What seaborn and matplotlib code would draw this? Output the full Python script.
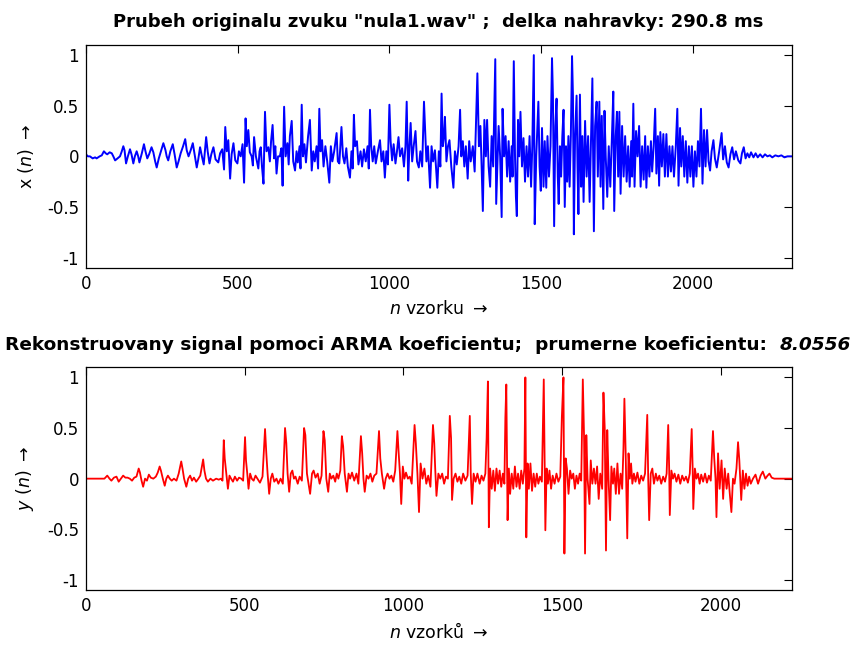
import matplotlib
matplotlib.use("Agg")
import matplotlib.pyplot as plt
import pandas as pd
import seaborn as sns

# Original recording "nula1.wav": (sample index, amplitude) vertices of the waveform
orig_points = [
    (0, 0.02), (6, 0.0), (13, 0.0), (22, -0.02), (30, -0.01), (35, -0.02), (45, 0.0), (52, 0.01),
    (59, 0.05), (65, 0.03), (70, 0.02), (78, 0.04), (85, 0.03), (90, 0.0), (96, -0.04), (104, -0.02),
    (112, 0.0), (118, 0.05), (123, 0.10), (127, 0.06), (132, -0.07), (138, 0.0), (145, 0.07), (150, 0.02),
    (156, -0.07), (161, 0.0), (167, 0.05), (172, 0.0), (176, -0.06), (184, 0.03), (191, 0.12), (196, 0.05),
    (202, -0.02), (208, 0.02), (216, 0.09), (222, 0.04), (228, -0.05), (233, -0.11), (240, -0.02), (248, 0.06),
    (255, 0.13), (262, 0.06), (266, 0.0), (271, -0.04), (278, 0.05), (286, 0.12), (292, 0.02), (299, -0.11),
    (305, -0.05), (312, 0.03), (320, 0.10), (327, 0.17), (332, 0.06), (338, 0.0), (345, 0.06), (352, 0.13),
    (358, 0.02), (365, -0.11), (370, -0.03), (376, 0.09), (382, 0.0), (388, -0.08), (396, 0.19), (401, 0.05),
    (407, -0.07), (413, 0.02), (420, 0.09), (427, -0.03), (436, -0.06), (442, 0.03), (449, 0.07), (455, -0.13),
    (459, 0.29), (464, 0.05), (469, 0.16), (475, -0.22), (480, 0.02), (486, 0.13), (492, -0.04), (499, -0.07),
    (504, 0.05), (510, 0.0), (516, 0.12), (521, -0.26), (526, 0.375), (530, 0.10), (535, 0.26), (540, 0.04),
    (546, 0.0), (550, -0.09), (554, 0.19), (560, 0.0), (568, -0.12), (572, 0.05), (576, 0.09), (580, -0.10),
    (585, -0.27), (590, 0.44), (595, 0.05), (601, 0.09), (606, -0.05), (610, 0.15), (615, 0.31), (620, -0.02),
    (624, 0.10), (628, -0.17), (633, 0.0), (639, 0.0), (644, 0.08), (648, -0.29), (653, 0.49), (658, 0.0),
    (664, 0.13), (668, -0.08), (672, 0.20), (678, 0.35), (683, -0.05), (689, -0.14), (694, 0.05), (698, -0.06),
    (704, 0.10), (707, -0.12), (711, 0.51), (715, 0.0), (720, 0.12), (725, -0.06), (732, 0.20), (738, 0.36),
    (744, -0.14), (749, 0.05), (754, -0.05), (760, 0.10), (765, -0.12), (769, 0.47), (773, 0.05), (778, 0.16),
    (783, -0.10), (789, 0.10), (795, -0.05), (802, -0.26), (807, 0.10), (812, -0.05), (818, 0.05), (826, 0.23),
    (830, -0.05), (835, -0.07), (842, 0.29), (847, 0.0), (852, -0.07), (858, 0.08), (863, -0.10), (870, -0.21),
    (875, 0.05), (879, -0.12), (883, 0.41), (887, 0.10), (893, 0.15), (898, -0.08), (905, 0.05), (910, -0.10),
    (916, 0.07), (922, -0.05), (928, 0.10), (932, -0.12), (936, 0.46), (940, 0.10), (945, -0.05), (950, 0.10),
    (955, -0.07), (962, 0.05), (969, 0.16), (974, -0.05), (980, 0.05), (985, -0.21), (990, 0.05), (995, -0.08),
    (1000, 0.51), (1004, 0.15), (1009, -0.04), (1014, 0.12), (1020, -0.07), (1025, 0.05), (1030, 0.19), (1035, 0.0),
    (1042, 0.08), (1048, -0.10), (1053, 0.10), (1057, 0.54), (1062, -0.24), (1066, 0.10), (1070, 0.33), (1075, -0.05),
    (1080, 0.10), (1086, 0.25), (1091, -0.05), (1097, -0.11), (1102, 0.05), (1108, -0.10), (1114, 0.54), (1118, 0.25),
    (1122, -0.05), (1127, 0.10), (1134, -0.31), (1139, 0.10), (1144, -0.05), (1150, 0.06), (1158, -0.31), (1163, 0.05),
    (1168, -0.10), (1172, 0.62), (1176, 0.10), (1180, 0.20), (1183, 0.39), (1188, -0.05), (1193, 0.10), (1198, 0.16),
    (1204, -0.10), (1211, -0.31), (1216, 0.05), (1222, -0.08), (1228, 0.10), (1233, 0.46), (1237, 0.0), (1242, 0.15),
    (1247, -0.10), (1252, 0.10), (1258, -0.22), (1263, 0.15), (1268, -0.05), (1275, 0.10), (1281, -0.15), (1290, 0.82),
    (1295, 0.10), (1300, 0.30), (1304, -0.10), (1308, -0.54), (1313, 0.36), (1318, 0.0), (1322, 0.36), (1327, -0.10),
    (1332, -0.30), (1337, 0.20), (1342, -0.10), (1349, 0.96), (1352, -0.47), (1356, -0.10), (1360, 0.30), (1365, 0.0),
    (1370, -0.60), (1373, 0.47), (1378, 0.0), (1383, 0.20), (1388, -0.20), (1393, 0.15), (1398, -0.25), (1403, 0.10),
    (1406, -0.20), (1410, 0.94), (1414, 0.0), (1417, -0.40), (1420, -0.59), (1424, 0.36), (1428, 0.0), (1432, 0.44),
    (1437, -0.10), (1442, 0.18), (1447, -0.25), (1452, 0.10), (1457, -0.20), (1462, 0.20), (1467, -0.30), (1471, 0.10),
    (1476, 1.0), (1479, -0.67), (1484, 0.0), (1488, 0.30), (1491, 0.54), (1495, -0.10), (1499, -0.34), (1503, 0.28),
    (1508, -0.30), (1512, 0.15), (1517, -0.31), (1521, 0.20), (1526, -0.20), (1531, 0.10), (1536, 0.97), (1539, 0.60),
    (1543, -0.69), (1547, 0.30), (1551, 0.57), (1555, -0.20), (1558, -0.47), (1562, 0.10), (1566, -0.20), (1570, 0.20),
    (1574, 0.46), (1578, -0.50), (1582, 0.10), (1586, -0.25), (1590, 0.20), (1594, -0.30), (1598, 0.20), (1602, 0.99),
    (1605, 0.60), (1608, -0.77), (1612, 0.20), (1617, 0.60), (1620, -0.10), (1623, -0.57), (1628, 0.61), (1632, -0.30),
    (1636, 0.20), (1640, -0.45), (1645, 0.35), (1650, -0.20), (1655, 0.20), (1660, -0.45), (1664, 0.10), (1669, 0.77),
    (1674, -0.74), (1678, 0.30), (1683, 0.54), (1687, -0.20), (1692, 0.54), (1696, -0.30), (1700, 0.40), (1705, -0.52),
    (1709, 0.45), (1713, 0.0), (1718, -0.40), (1723, 0.10), (1728, -0.30), (1733, 0.15), (1738, 0.64), (1741, -0.54),
    (1746, 0.20), (1750, 0.44), (1754, -0.20), (1758, 0.44), (1762, -0.37), (1767, 0.30), (1772, -0.20), (1777, 0.20),
    (1782, -0.25), (1787, 0.10), (1792, -0.30), (1797, 0.15), (1800, -0.20), (1804, 0.52), (1808, -0.30), (1813, 0.25),
    (1818, 0.0), (1823, 0.30), (1828, -0.30), (1833, 0.10), (1838, -0.23), (1843, 0.20), (1847, -0.31), (1852, 0.10),
    (1857, -0.20), (1862, 0.15), (1866, -0.15), (1871, 0.10), (1876, 0.47), (1880, -0.17), (1885, 0.20), (1889, -0.29),
    (1893, 0.24), (1898, -0.10), (1903, 0.22), (1908, -0.20), (1913, 0.22), (1918, -0.20), (1923, 0.10), (1928, -0.15),
    (1933, 0.10), (1938, -0.20), (1944, 0.10), (1949, 0.47), (1953, -0.29), (1958, 0.28), (1962, -0.10), (1967, 0.20),
    (1972, -0.20), (1977, 0.15), (1982, -0.26), (1987, 0.10), (1992, -0.20), (1997, 0.10), (2002, -0.30), (2007, 0.05),
    (2012, -0.20), (2017, 0.15), (2022, -0.10), (2027, 0.47), (2032, -0.27), (2037, 0.26), (2042, -0.10), (2047, 0.26),
    (2052, -0.05), (2057, -0.14), (2062, 0.05), (2068, 0.16), (2073, -0.02), (2079, -0.11), (2087, 0.05), (2095, 0.23),
    (2100, -0.03), (2106, 0.10), (2112, -0.06), (2118, -0.11), (2124, 0.02), (2130, 0.09), (2136, -0.03), (2142, 0.05),
    (2150, -0.04), (2157, -0.07), (2162, 0.03), (2168, 0.09), (2174, -0.02), (2180, 0.03), (2186, -0.01), (2192, 0.04),
    (2200, -0.01), (2207, 0.03), (2214, -0.01), (2222, 0.02), (2230, -0.01), (2238, 0.02), (2246, 0.0), (2254, 0.01),
    (2262, -0.01), (2272, 0.01), (2282, 0.0), (2292, 0.01), (2302, -0.01), (2312, 0.0), (2326, 0.0),
]

# Signal reconstructed from ARMA coefficients: (sample index, amplitude) vertices
rec_points = [
    (0, 0.0), (48, 0.0), (58, 0.0), (67, 0.03), (74, 0.0), (80, -0.02), (88, 0.01), (96, 0.02),
    (103, -0.03), (110, 0.0), (117, 0.03), (124, 0.01), (131, 0.01), (138, 0.0), (145, -0.02), (152, 0.01),
    (159, 0.02), (166, 0.10), (170, 0.06), (175, -0.02), (180, -0.08), (186, 0.0), (192, -0.02), (198, 0.04),
    (204, 0.01), (212, 0.0), (220, 0.02), (226, 0.06), (232, 0.12), (236, 0.08), (242, 0.0), (248, -0.07),
    (253, 0.0), (258, 0.03), (264, 0.0), (270, -0.02), (277, 0.0), (285, -0.02), (292, 0.05), (300, 0.17),
    (304, 0.10), (309, 0.0), (316, -0.08), (322, 0.0), (328, 0.03), (334, -0.02), (340, 0.01), (347, -0.03),
    (354, 0.0), (360, 0.03), (369, 0.19), (373, 0.08), (378, 0.0), (384, -0.03), (392, 0.0), (400, -0.02),
    (410, 0.0), (418, -0.01), (425, 0.0), (430, -0.02), (434, 0.38), (437, 0.20), (442, 0.05), (447, -0.10),
    (452, 0.03), (457, 0.0), (463, -0.03), (469, 0.02), (476, -0.02), (482, 0.01), (489, 0.0), (495, -0.02),
    (501, 0.41), (504, 0.18), (508, 0.05), (512, -0.10), (517, 0.05), (522, 0.0), (528, -0.02), (534, 0.03),
    (540, 0.0), (548, -0.04), (556, 0.02), (564, 0.49), (568, 0.25), (572, 0.05), (577, -0.15), (582, 0.0),
    (587, 0.05), (593, -0.03), (600, 0.0), (606, -0.05), (613, 0.0), (620, -0.05), (627, 0.50), (631, 0.35),
    (635, 0.05), (640, -0.13), (645, 0.05), (650, 0.08), (655, 0.0), (660, 0.02), (667, -0.05), (673, 0.02),
    (680, -0.02), (687, 0.50), (691, 0.43), (696, 0.05), (701, -0.05), (706, -0.15), (712, 0.05), (717, 0.08),
    (723, 0.01), (730, 0.05), (736, -0.05), (742, 0.03), (748, 0.47), (752, 0.38), (757, 0.0), (763, -0.13),
    (768, 0.05), (773, 0.0), (779, 0.03), (785, -0.03), (790, 0.05), (795, 0.0), (801, 0.08), (806, 0.42),
    (810, 0.32), (815, 0.05), (822, -0.13), (827, 0.05), (832, 0.0), (838, 0.06), (845, -0.02), (852, 0.05),
    (858, -0.05), (866, 0.42), (870, 0.25), (874, 0.0), (878, -0.13), (884, 0.03), (890, 0.0), (896, 0.05),
    (902, -0.03), (908, 0.03), (915, 0.05), (923, 0.47), (927, 0.20), (932, 0.05), (939, -0.10), (944, 0.0),
    (950, 0.05), (956, 0.0), (962, 0.03), (968, -0.03), (974, 0.08), (981, 0.47), (985, 0.25), (989, 0.05),
    (993, -0.25), (998, 0.12), (1003, 0.0), (1008, 0.06), (1014, 0.0), (1020, 0.02), (1026, -0.05), (1030, 0.20),
    (1035, 0.53), (1039, 0.35), (1044, 0.05), (1049, -0.33), (1054, 0.15), (1060, 0.0), (1066, 0.10), (1072, -0.05),
    (1078, 0.03), (1085, -0.08), (1093, 0.53), (1097, 0.35), (1100, 0.10), (1104, -0.17), (1110, 0.05), (1116, 0.0),
    (1122, 0.05), (1128, -0.05), (1134, 0.02), (1140, 0.0), (1146, 0.62), (1150, 0.40), (1153, -0.21), (1158, 0.0),
    (1164, 0.05), (1170, -0.03), (1176, 0.02), (1182, -0.05), (1188, 0.05), (1195, -0.02), (1202, 0.03), (1209, 0.62),
    (1212, 0.05), (1216, -0.25), (1221, 0.05), (1227, -0.03), (1233, 0.05), (1240, -0.05), (1246, 0.03), (1252, -0.02),
    (1258, 0.05), (1262, 0.40), (1266, 0.96), (1269, -0.48), (1273, 0.10), (1278, -0.10), (1283, 0.08), (1288, -0.12),
    (1293, 0.10), (1298, -0.05), (1303, 0.08), (1308, -0.08), (1313, 0.05), (1318, -0.05), (1321, 0.60), (1324, 0.93),
    (1328, -0.41), (1332, 0.10), (1336, -0.15), (1341, 0.05), (1346, -0.10), (1351, 0.12), (1356, -0.08), (1361, 0.05),
    (1366, -0.10), (1371, 0.08), (1376, -0.05), (1381, 0.10), (1384, 1.0), (1387, -0.58), (1391, 0.15), (1395, -0.10),
    (1400, 0.15), (1405, -0.12), (1410, 0.05), (1415, -0.08), (1420, 0.05), (1425, -0.05), (1430, 0.02), (1436, -0.03),
    (1442, 0.98), (1447, -0.51), (1451, 0.10), (1455, -0.05), (1460, 0.08), (1465, -0.10), (1470, 0.03), (1476, -0.05),
    (1482, 0.05), (1488, -0.03), (1494, 0.02), (1499, 0.61), (1504, 1.0), (1507, -0.74), (1511, 0.20), (1515, 0.10),
    (1520, -0.15), (1525, 0.08), (1530, 0.0), (1535, 0.05), (1540, -0.10), (1545, 0.03), (1550, -0.05), (1555, 0.05),
    (1560, -0.02), (1565, 0.98), (1569, 0.40), (1572, -0.74), (1576, 0.43), (1580, 0.0), (1586, -0.25), (1590, 0.18),
    (1595, -0.05), (1600, 0.10), (1605, -0.05), (1610, 0.12), (1615, -0.20), (1620, 0.05), (1626, -0.10), (1630, 0.85),
    (1634, 0.50), (1638, -0.71), (1642, 0.48), (1646, 0.0), (1651, -0.41), (1655, 0.12), (1660, -0.05), (1664, 0.10),
    (1669, -0.15), (1674, 0.15), (1679, -0.15), (1684, 0.05), (1689, -0.10), (1693, 0.30), (1696, 0.79), (1700, 0.25),
    (1705, -0.59), (1709, 0.25), (1713, 0.0), (1717, 0.15), (1721, -0.05), (1726, 0.05), (1731, -0.03), (1737, 0.06),
    (1743, -0.05), (1749, 0.03), (1755, -0.02), (1761, 0.05), (1768, 0.63), (1771, 0.0), (1774, -0.41), (1779, 0.05),
    (1784, 0.10), (1789, -0.05), (1795, 0.05), (1800, -0.02), (1806, 0.03), (1812, -0.05), (1818, 0.02), (1824, -0.03),
    (1829, 0.05), (1834, 0.53), (1837, 0.10), (1839, -0.36), (1844, 0.08), (1849, 0.0), (1854, 0.05), (1860, -0.03),
    (1866, 0.04), (1872, -0.05), (1878, 0.03), (1884, -0.02), (1890, 0.02), (1896, -0.04), (1902, 0.05), (1908, 0.49),
    (1911, 0.10), (1913, -0.30), (1918, 0.10), (1923, 0.0), (1928, 0.05), (1933, -0.05), (1938, 0.04), (1944, -0.03),
    (1950, 0.05), (1956, -0.04), (1962, 0.03), (1968, -0.02), (1975, 0.47), (1979, 0.20), (1983, 0.0), (1986, -0.38),
    (1991, 0.25), (1996, -0.10), (2002, 0.18), (2007, -0.20), (2012, 0.10), (2018, -0.10), (2023, 0.05), (2028, -0.15),
    (2033, -0.33), (2038, 0.0), (2043, -0.05), (2049, 0.10), (2054, 0.36), (2058, 0.18), (2064, -0.21), (2069, 0.08),
    (2074, -0.10), (2079, 0.05), (2084, -0.07), (2089, 0.02), (2094, -0.05), (2101, 0.0), (2109, 0.04), (2117, -0.05),
    (2125, 0.03), (2132, 0.07), (2140, 0.0), (2147, 0.03), (2153, 0.05), (2160, 0.01), (2168, 0.0), (2223, 0.0),
]

N_ORIG = 2326          # samples in the recording
N_REC = 2223           # samples in the reconstruction
DURATION_MS = 290.8
MEAN_COEF = 8.0556
yticks = [-1, -0.5, 0, 0.5, 1]
ytick_labels = ["-1", "-0.5", "0", "0.5", "1"]
xticks = [0, 500, 1000, 1500, 2000]

sns.set_style("white")
plt.rcParams.update({
    "font.family": ["DejaVu Sans"],
    "mathtext.fontset": "dejavusans",
    "text.color": "black",
    "axes.labelcolor": "black",
    "xtick.color": "black",
    "ytick.color": "black",
    "xtick.direction": "in",
    "ytick.direction": "in",
    "xtick.top": True,
    "ytick.right": True,
    "xtick.major.size": 5.5,
    "ytick.major.size": 5.5,
    "xtick.major.width": 0.8,
    "ytick.major.width": 0.8,
    "axes.linewidth": 0.9,
    "axes.edgecolor": "black",
})

W, H = 854, 648
fig = plt.figure(figsize=(W / 100, H / 100), dpi=100)
fig.patch.set_facecolor("white")


def px_axes(left, top, right, bottom):
    return fig.add_axes([left / W, 1 - bottom / H, (right - left) / W, (bottom - top) / H])


ax1 = px_axes(86, 45, 791.7, 267.7)
ax2 = px_axes(86, 367.3, 791.7, 590)

df_orig = pd.DataFrame(orig_points, columns=["n", "x"])
df_rec = pd.DataFrame(rec_points, columns=["n", "y"])

sns.lineplot(data=df_orig, x="n", y="x", ax=ax1, color="#0000ff", linewidth=1.4,
             estimator=None, sort=False)
sns.lineplot(data=df_rec, x="n", y="y", ax=ax2, color="#ff0000", linewidth=1.3,
             estimator=None, sort=False)

for ax, n_max in ((ax1, N_ORIG), (ax2, N_REC)):
    ax.set_xlim(0, n_max)
    ax.set_ylim(-1.1, 1.1)
    ax.set_xticks(xticks)
    ax.set_xticklabels([str(t) for t in xticks])
    ax.set_yticks(yticks)
    ax.set_yticklabels(ytick_labels)
    ax.tick_params(labelsize=12, colors="black", pad=5)
    for s in ax.spines.values():
        s.set_visible(True)
        s.set_color("black")

label_fs = 12.5
ax1.set_xlabel(r"$\it{n}$ vzorku $\rightarrow$", fontsize=label_fs, labelpad=5)
ax1.set_ylabel(r"x ($\it{n}$) $\rightarrow$", fontsize=label_fs, labelpad=8)
ax2.set_xlabel(r"$\it{n}$ vzorků $\rightarrow$", fontsize=label_fs, labelpad=5)
ax2.set_ylabel(r"$\it{y}$ ($\it{n}$) $\rightarrow$", fontsize=label_fs, labelpad=8)

fig.text(438.5 / W, 1 - 27.3 / H,
         f'Prubeh originalu zvuku "nula1.wav" ;  delka nahravky: {DURATION_MS} ms',
         ha="center", va="baseline", fontsize=13, fontweight="bold")

title2_fs = 13.3
t2 = fig.text(5 / W, 1 - 350 / H,
              "Rekonstruovany signal pomoci ARMA koeficientu;  prumerne koeficientu:  ",
              ha="left", va="baseline", fontsize=title2_fs, fontweight="bold")
ax2.annotate(f"{MEAN_COEF:.4f}", xy=(1, 0), xycoords=t2, ha="left", va="bottom",
             fontsize=title2_fs, fontweight="bold", fontstyle="italic", annotation_clip=False)

fig.savefig("out.png", dpi=100, facecolor="white")
